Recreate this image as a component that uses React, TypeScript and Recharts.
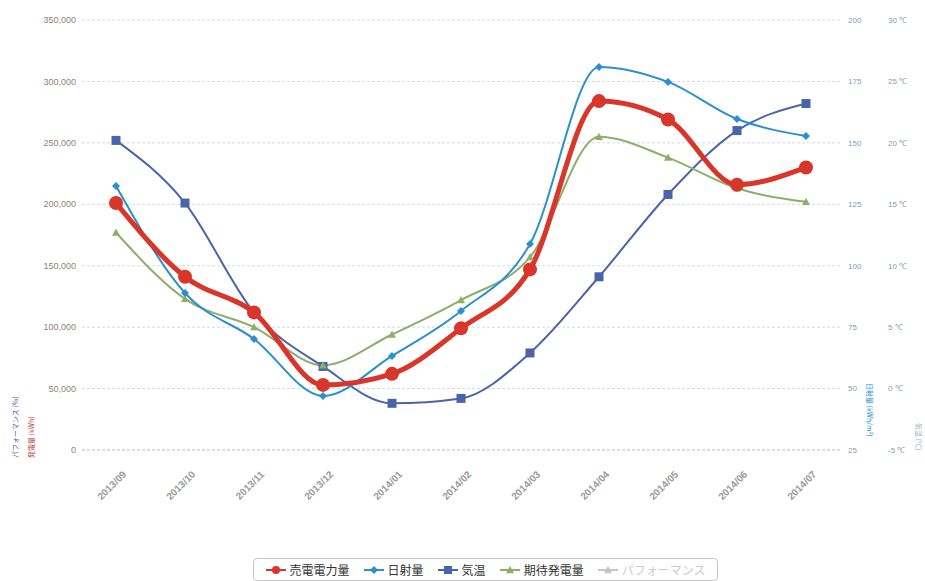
import React from 'react';
import { ComposedChart, Line, XAxis, YAxis, CartesianGrid, Legend } from 'recharts';

const months = ['2013/09', '2013/10', '2013/11', '2013/12', '2014/01', '2014/02', '2014/03', '2014/04', '2014/05', '2014/06', '2014/07'];
// 売電電力量 (kWh)
const salesKwh = [201000, 141000, 112000, 53000, 62000, 99000, 147000, 284000, 269000, 216000, 230000];
// 日射量 (kWh/m2)
const irradiance = [132.4, 88.9, 70.2, 47.0, 63.3, 81.6, 108.8, 180.9, 174.8, 159.7, 152.8];
// 気温 (℃)
const temperature = [20.2, 15.1, 6.2, 1.8, -1.2, -0.8, 2.9, 9.1, 15.8, 21.0, 23.2];
// 期待発電量 (kWh)
const expectedKwh = [177000, 123000, 100000, 69000, 94000, 122000, 157000, 255000, 238000, 213000, 202000];

const kwhTicks = [0, 50000, 100000, 150000, 200000, 250000, 300000, 350000];
const irrTicks = [25, 50, 75, 100, 125, 150, 175, 200];
const tempTicks = [-5, 0, 5, 10, 15, 20, 25, 30];

const RED = '#d8352b';
const SKY = '#2b8fd0';
const NAVY = '#4a64aa';
const GREEN = '#8caf69';
const GREY = '#c4c4c4';

const legendItems = [
  { name: '売電電力量', color: RED, shape: 'circle', active: true },
  { name: '日射量', color: SKY, shape: 'diamond', active: true },
  { name: '気温', color: NAVY, shape: 'square', active: true },
  { name: '期待発電量', color: GREEN, shape: 'triangle', active: true },
  { name: 'パフォーマンス', color: GREY, shape: 'triangle', active: false },
];

const data = months.map((m, i) => ({
  month: m,
  sales: salesKwh[i],
  irr: irradiance[i],
  temp: temperature[i],
  expected: expectedKwh[i],
}));

const numFont = '"Liberation Sans", Arial, sans-serif';
const jpFont = '"Noto Sans CJK JP", sans-serif';

const Marker = ({ cx, cy, shape, color, size }: any) => {
  if (cx == null || cy == null) return null;
  if (shape === 'circle') return <circle cx={cx} cy={cy} r={size} fill={color} />;
  if (shape === 'square')
    return <rect x={cx - size} y={cy - size} width={size * 2} height={size * 2} fill={color} />;
  if (shape === 'diamond')
    return (
      <path d={`M${cx},${cy - size} L${cx + size},${cy} L${cx},${cy + size} L${cx - size},${cy} Z`} fill={color} />
    );
  return (
    <path d={`M${cx},${cy - size} L${cx + size},${cy + size * 0.8} L${cx - size},${cy + size * 0.8} Z`} fill={color} />
  );
};

const dotOf = (shape: string, color: string, size: number) => (p: any) =>
  <Marker key={`${shape}-${p.index}`} cx={p.cx} cy={p.cy} shape={shape} color={color} size={size} />;

const MonthTick = ({ x, y, payload }: any) => {
  const ax = x + 11;
  const ay = y + 25;
  return (
    <text
      x={ax}
      y={ay}
      transform={`rotate(-45 ${ax} ${ay})`}
      textAnchor="end"
      fontSize={10}
      fontWeight="bold"
      fill="#9a9a9a"
      fontFamily={numFont}
    >
      {payload.value}
    </text>
  );
};

const LeftTitles = ({ viewBox }: any) => {
  const by = viewBox.y + viewBox.height + 8;
  return (
    <g fontFamily={jpFont} fontSize={7}>
      <text transform={`translate(${viewBox.x + 18},${by}) rotate(-90)`} fill="#5a4f9e">パフォーマンス (%)</text>
      <text transform={`translate(${viewBox.x + 34},${by}) rotate(-90)`} fill="#b5473c">発電量 (kWh)</text>
    </g>
  );
};

const IrrTitle = ({ viewBox }: any) => (
  <text
    transform={`translate(${viewBox.x + 27},${viewBox.y + viewBox.height - 67}) rotate(90)`}
    fontFamily={jpFont}
    fontSize={7}
    fill={SKY}
  >
    日射量 (kWh/m²)
  </text>
);

const TempTitle = ({ viewBox }: any) => (
  <text
    transform={`translate(${viewBox.x + 36},${viewBox.y + viewBox.height - 27}) rotate(90)`}
    fontFamily={jpFont}
    fontSize={7}
    fill="#8fb0c8"
  >
    気温 (℃)
  </text>
);

const LegendBox = () => (
  <div
    style={{
      display: 'inline-flex',
      alignItems: 'center',
      gap: 14,
      border: '1px solid #c8c8c8',
      borderRadius: 4,
      padding: '2px 12px',
      height: 17,
      fontFamily: jpFont,
      fontSize: 12,
      background: '#fff',
    }}
  >
    {legendItems.map((it) => (
      <span key={it.name} style={{ display: 'inline-flex', alignItems: 'center', color: it.active ? '#333' : '#ccc' }}>
        <svg width={20} height={12} style={{ marginRight: 4 }}>
          <line x1={0} y1={6} x2={20} y2={6} stroke={it.color} strokeWidth={2} />
          <Marker cx={10} cy={6} shape={it.shape} color={it.color} size={4} />
        </svg>
        {it.name}
      </span>
    ))}
  </div>
);

export default function App() {
  return (
    <div style={{ position: 'absolute', left: 0, top: 0, background: '#fff' }}>
      <ComposedChart width={925} height={581} data={data} margin={{ top: 20, right: 0, bottom: 0, left: 0 }}>
        <CartesianGrid yAxisId="kwh" vertical={false} stroke="#d3dbe3" strokeDasharray="3 2" />
        <XAxis
          dataKey="month"
          height={108}
          padding={{ left: 34, right: 34 }}
          tickSize={0}
          tickMargin={0}
          tick={<MonthTick />}
          interval={0}
          axisLine={{ stroke: '#c7d0da', strokeDasharray: '3 2' }}
        />
        <YAxis
          yAxisId="kwh"
          orientation="left"
          width={82}
          domain={[0, 350000]}
          ticks={kwhTicks}
          axisLine={false}
          tickLine={false}
          tickSize={0}
          tickMargin={6}
          tickFormatter={(v: number) => v.toLocaleString('en-US')}
          tick={{ fontSize: 9, fill: '#907f7a', fontFamily: numFont }}
          label={{ content: (p: any) => <LeftTitles {...p} /> }}
        />
        <YAxis
          yAxisId="irr"
          orientation="right"
          width={40}
          domain={[25, 200]}
          ticks={irrTicks}
          axisLine={false}
          tickLine={false}
          tickSize={0}
          tickMargin={8}
          tick={{ fontSize: 8, fill: '#7f9cb6', fontFamily: numFont }}
          label={{ content: (p: any) => <IrrTitle {...p} /> }}
        />
        <YAxis
          yAxisId="temp"
          orientation="right"
          width={45}
          domain={[-5, 30]}
          ticks={tempTicks}
          axisLine={false}
          tickLine={false}
          tickSize={0}
          tickMargin={8}
          tickFormatter={(v: number) => `${v} ℃`}
          tick={{ fontSize: 8, fill: '#7f9cb6', fontFamily: numFont }}
          label={{ content: (p: any) => <TempTitle {...p} /> }}
        />
        <Legend
          verticalAlign="bottom"
          align="center"
          content={() => <LegendBox />}
          wrapperStyle={{ left: 243, width: 485, textAlign: 'center', height: 23 }}
        />
        <Line
          yAxisId="temp"
          dataKey="temp"
          name="気温"
          type="monotone"
          stroke={NAVY}
          strokeWidth={2}
          dot={dotOf('square', NAVY, 4.5)}
          activeDot={false}
          isAnimationActive={false}
        />
        <Line
          yAxisId="kwh"
          dataKey="expected"
          name="期待発電量"
          type="monotone"
          stroke={GREEN}
          strokeWidth={2}
          dot={dotOf('triangle', GREEN, 4)}
          activeDot={false}
          isAnimationActive={false}
        />
        <Line
          yAxisId="irr"
          dataKey="irr"
          name="日射量"
          type="monotone"
          stroke={SKY}
          strokeWidth={2}
          dot={dotOf('diamond', SKY, 4)}
          activeDot={false}
          isAnimationActive={false}
        />
        <Line
          yAxisId="kwh"
          dataKey="sales"
          name="売電電力量"
          type="monotone"
          stroke={RED}
          strokeWidth={5}
          dot={dotOf('circle', RED, 7)}
          activeDot={false}
          isAnimationActive={false}
        />
      </ComposedChart>
    </div>
  );
}
